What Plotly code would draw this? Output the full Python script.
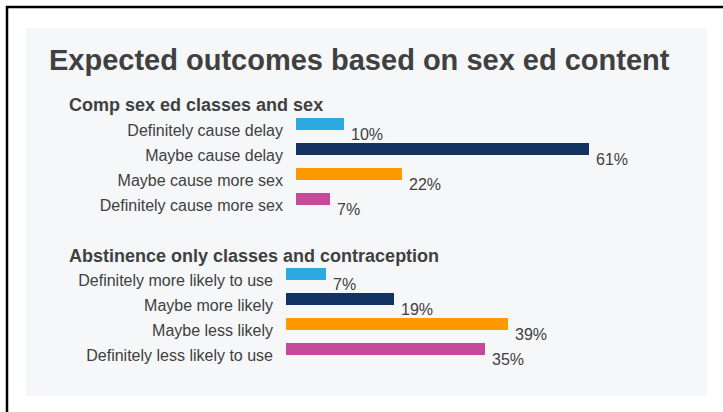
import plotly.graph_objects as go

# --- data ---------------------------------------------------------------
comp_categories = [
    "Definitely cause delay",
    "Maybe cause delay",
    "Maybe cause more sex",
    "Definitely cause more sex",
]
comp_values = [10, 61, 22, 7]

abst_categories = [
    "Definitely more likely to use",
    "Maybe more likely",
    "Maybe less likely",
    "Definitely less likely to use",
]
abst_values = [7, 19, 39, 35]

bar_colors = ["#2ca9e1", "#133461", "#ff9900", "#c54b9a"]

title_text = "Expected outcomes based on sex ed content"
comp_header = "Comp sex ed classes and sex"
abst_header = "Abstinence only classes and contraception"

# --- geometry helpers (pixel -> paper) ------------------------------------
W, H = 723, 412
FONT = "Arial, Liberation Sans, Helvetica, sans-serif"
TEXT_COLOR = "#404040"


def px(x):
    return x / W


def py(y):
    return 1 - y / H


fig = go.Figure()

BAR_WIDTH = 0.5
BAR_OFFSET = -0.51  # bars sit slightly above their category label

fig.add_trace(go.Bar(
    x=comp_values, y=comp_categories, orientation="h",
    marker=dict(color=bar_colors, line=dict(width=0)),
    width=BAR_WIDTH, offset=BAR_OFFSET,
    xaxis="x", yaxis="y", hoverinfo="skip", showlegend=False,
))
fig.add_trace(go.Bar(
    x=abst_values, y=abst_categories, orientation="h",
    marker=dict(color=bar_colors, line=dict(width=0)),
    width=BAR_WIDTH, offset=BAR_OFFSET,
    xaxis="x2", yaxis="y2", hoverinfo="skip", showlegend=False,
))

# value labels
annotations = []
for cats, vals, xr, yr in [
    (comp_categories, comp_values, "x", "y"),
    (abst_categories, abst_values, "x2", "y2"),
]:
    for c, v in zip(cats, vals):
        annotations.append(dict(
            x=v, y=c, xref=xr, yref=yr, text=f"{v}%", showarrow=False,
            xanchor="left", yanchor="middle", xshift=5, yshift=-4,
            font=dict(family=FONT, size=16, color=TEXT_COLOR),
        ))

# section headers
for text, ypx in [(comp_header, 105), (abst_header, 256)]:
    annotations.append(dict(
        x=px(67), y=py(ypx), xref="paper", yref="paper", text=f"<b>{text}</b>",
        showarrow=False, xanchor="left", yanchor="middle",
        font=dict(family=FONT, size=18, color=TEXT_COLOR),
    ))

# frame and panel
shapes = [
    dict(type="rect", xref="paper", yref="paper",
         x0=px(26), x1=px(707), y0=py(396), y1=py(28),
         fillcolor="#f6f7f9", line=dict(width=0), layer="below"),
    dict(type="path", xref="paper", yref="paper",
         path=f"M {px(7)} {py(420)} L {px(7)} {py(7)} L {px(730)} {py(7)}",
         line=dict(color="#000000", width=2.5), layer="above"),
]

axis_common = dict(showgrid=False, zeroline=False, showline=False,
                   showticklabels=False, fixedrange=True)
yaxis_common = dict(showgrid=False, zeroline=False, showline=False, ticks="",
                    ticklabelstandoff=12, fixedrange=True,
                    tickfont=dict(family=FONT, size=16, color=TEXT_COLOR))

fig.update_layout(
    width=W, height=H,
    margin=dict(l=0, r=0, t=0, b=0, pad=0),
    paper_bgcolor="#ffffff", plot_bgcolor="rgba(0,0,0,0)",
    title=dict(text=f"<b>{title_text}</b>", x=px(49), y=py(60),
               xref="paper", yref="paper", xanchor="left", yanchor="middle",
               font=dict(family=FONT, size=29, color=TEXT_COLOR)),
    xaxis=dict(domain=[px(296), px(696)], range=[0, 400 / 4.8],
               anchor="y", **axis_common),
    yaxis=dict(domain=[py(218), py(118)], range=[3.5, -0.5],
               anchor="x", **yaxis_common),
    xaxis2=dict(domain=[px(286), px(686)], range=[0, 400 / 5.69],
                anchor="y2", **axis_common),
    yaxis2=dict(domain=[py(368), py(268)], range=[3.5, -0.5],
                anchor="x2", **yaxis_common),
    annotations=annotations,
    shapes=shapes,
    bargap=0,
)

fig.write_html("out.html")
